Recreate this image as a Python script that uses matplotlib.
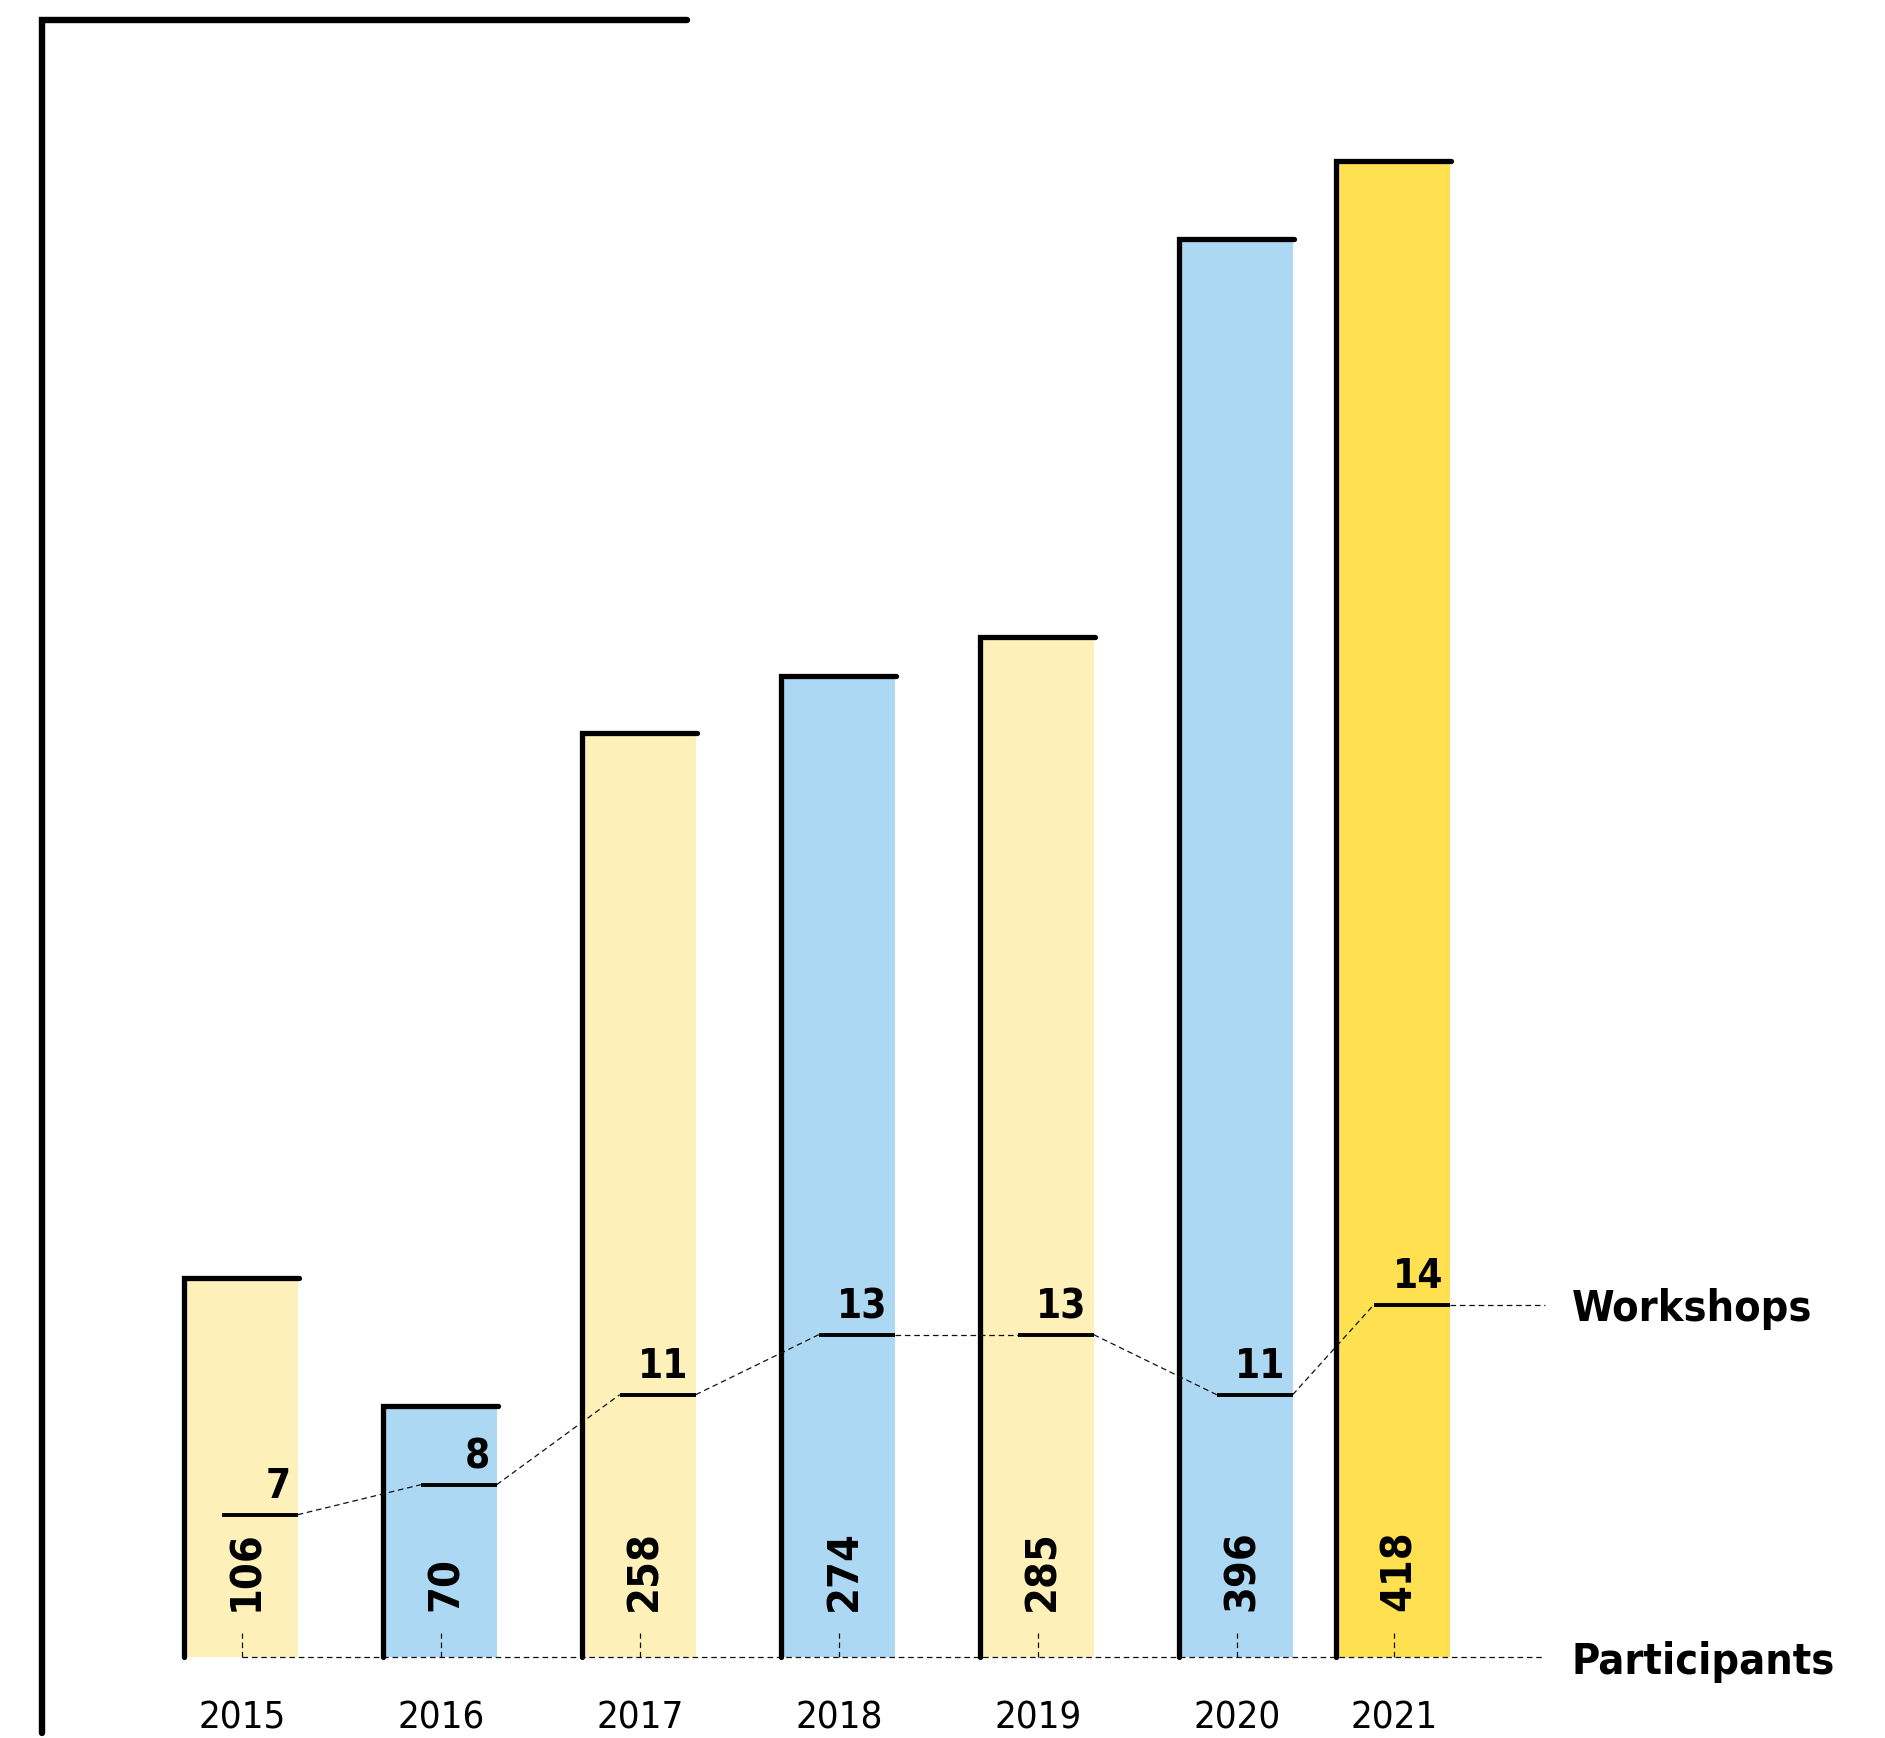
import matplotlib.pyplot as plt
from matplotlib.lines import Line2D

# Data
years = ['2015', '2016', '2017', '2018', '2019', '2020', '2021']
participants = [106, 70, 258, 274, 285, 396, 418]
workshops = [7, 8, 11, 13, 13, 11, 14]
bar_colors = ['#FEF0B9', '#ADD8F4', '#FEF0B9', '#ADD8F4', '#FEF0B9', '#ADD8F4', '#FEE050']

# Layout, in pixels of the 1885x1738 canvas
W, H = 1885, 1738
slots = [0, 1, 2, 3, 4, 5, 5.79]
X0, STEP = 242, 199            # px centre of first bar, px per slot
BASE = 1657                    # px of the zero line
P_SCALE = 3.58                 # px per participant
W_ZERO, W_SCALE = 1724.7, 30.0 # px of 0 workshops, px per workshop
BAR_W = 0.56
MARK_LEN = 0.382
X_END = (1545 - X0) / STEP

FONT = 'DejaVu Sans'
STRETCH = 'condensed'
DASH = (0, (4.5, 3))
INK = '#111111'

fig = plt.figure(figsize=(W / 100, H / 100), dpi=100)
ax = fig.add_axes([0, 0, 1, 1])
ax.set_xlim(-X0 / STEP, (W - X0) / STEP)
ax.set_ylim((BASE - H) / P_SCALE, BASE / P_SCALE)
ax.axis('off')

ax2 = ax.twinx()
ax2.set_ylim((W_ZERO - H) / W_SCALE, W_ZERO / W_SCALE)
ax2.axis('off')

# Participants bars
ax.bar(slots, participants, width=BAR_W, color=bar_colors, zorder=1)
for x, p, yr in zip(slots, participants, years):
    left = x - BAR_W / 2 - 2.5 / STEP
    right = x + BAR_W / 2 + 1.0 / STEP
    ax.plot([left, left, right], [0, p, p], color='black', lw=3.8,
            solid_joinstyle='miter', solid_capstyle='round', zorder=3)
    # little dashed tick at the bar centre
    ax.plot([x, x], [0, 24 / P_SCALE], color=INK, lw=0.9, ls=DASH, zorder=2)
    ax.annotate(str(p), xy=(x, 0), xytext=(12, 33), textcoords='offset points',
                rotation=90, rotation_mode='anchor', ha='left', va='baseline',
                fontsize=31, fontweight='bold', family=FONT, fontstretch=STRETCH, zorder=4)
    ax.annotate(yr, xy=(x, 0), xytext=(0, -51.5), textcoords='offset points',
                ha='center', va='baseline', fontsize=27.5, family=FONT, fontstretch=STRETCH)

# Participants base line
ax.plot([slots[0], X_END], [0, 0], color=INK, lw=0.9, ls=DASH, zorder=2)
ax.annotate('Participants', xy=(X_END, 0), xytext=(19, -12), textcoords='offset points',
            ha='left', va='baseline', fontsize=31, fontweight='bold', family=FONT,
            fontstretch=STRETCH)

# Workshops markers and connecting dashed line
rights = [x + BAR_W / 2 for x in slots]
lefts = [r - MARK_LEN for r in rights]
ax2.hlines(workshops, lefts, rights, color='black', lw=2.8, zorder=3)
for i in range(len(workshops) - 1):
    ax2.plot([rights[i], lefts[i + 1]], [workshops[i], workshops[i + 1]],
             color=INK, lw=0.9, ls=DASH, zorder=2)
ax2.plot([rights[-1], X_END], [workshops[-1], workshops[-1]], color=INK, lw=0.9, ls=DASH, zorder=2)
for r, w in zip(rights, workshops):
    ax2.annotate(str(w), xy=(r, w), xytext=(-5, 12), textcoords='offset points',
                 ha='right', va='baseline', fontsize=29, fontweight='bold', family=FONT,
                 fontstretch=STRETCH)
ax2.annotate('Workshops', xy=(X_END, workshops[-1]), xytext=(19, -12), textcoords='offset points',
             ha='left', va='baseline', fontsize=31, fontweight='bold', family=FONT,
             fontstretch=STRETCH)

# Bracket in the top left corner
fig.add_artist(Line2D([42 / W, 42 / W, 687 / W], [1 - 1733 / H, 1 - 20 / H, 1 - 20 / H],
                      transform=fig.transFigure, color='black', lw=4.6,
                      solid_joinstyle='miter', solid_capstyle='round'))

fig.savefig('out.png', dpi=100)
